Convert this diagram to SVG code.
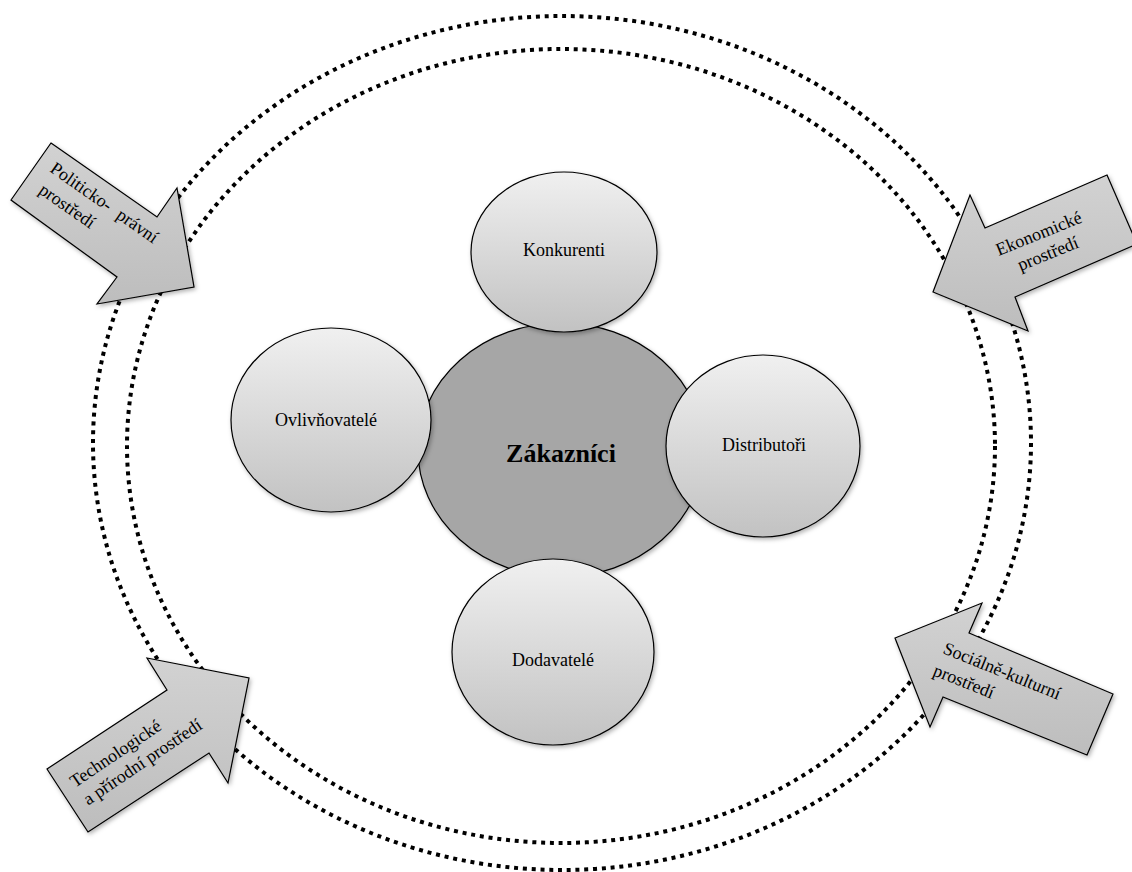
<svg xmlns="http://www.w3.org/2000/svg" width="1132" height="872" viewBox="0 0 1132 872">
<style>
.ring{fill:none;stroke:#000;stroke-width:4;stroke-dasharray:4 4.8}
.arrow{fill:url(#ag);stroke:#000;stroke-width:1.2;stroke-linejoin:miter;filter:url(#sh)}
.sat{fill:url(#cg);stroke:#000;stroke-width:1.2;filter:url(#sh)}
.core{fill:#a6a6a6;stroke:#000;stroke-width:1.2;filter:url(#sh)}
.t{font-family:"Liberation Serif","Times New Roman",serif;font-size:18px;fill:#000}
.c{text-anchor:middle}
.b{font-size:26px;font-weight:bold}
</style>
<defs>
<linearGradient id="cg" x1="0" y1="0" x2="0" y2="1">
<stop offset="0" stop-color="#f0f0f0"/>
<stop offset="1" stop-color="#c2c2c2"/>
</linearGradient>
<linearGradient id="ag" x1="0" y1="0" x2="0" y2="1">
<stop offset="0" stop-color="#d2d2d2"/>
<stop offset="1" stop-color="#bdbdbd"/>
</linearGradient>
<filter id="sh" x="-20%" y="-20%" width="140%" height="140%">
<feDropShadow dx="1.5" dy="2" stdDeviation="2" flood-color="#000" flood-opacity="0.3"/>
</filter>
</defs>
<g id="connectors">
<ellipse class="ring" cx="562" cy="443" rx="469" ry="427"/>
<ellipse class="ring" cx="561" cy="446" rx="434" ry="397"/>
</g>
<g id="zakaznici">
<ellipse class="core" cx="561" cy="450" rx="143" ry="127"/>
<text class="t c b" x="561" y="462">Zákazníci</text>
</g>
<g id="konkurenti">
<ellipse class="sat" cx="564" cy="252" rx="93" ry="80"/>
<text class="t c" x="564" y="256">Konkurenti</text>
</g>
<g id="ovlivnovatele">
<ellipse class="sat" cx="331" cy="420" rx="100" ry="92"/>
<text class="t c" x="326" y="426">Ovlivňovatelé</text>
</g>
<g id="distributori">
<ellipse class="sat" cx="763" cy="446" rx="97" ry="91"/>
<text class="t c" x="764" y="451">Distributoři</text>
</g>
<g id="dodavatele">
<ellipse class="sat" cx="553" cy="652" rx="101" ry="93"/>
<text class="t c" x="553" y="666">Dodavatelé</text>
</g>
<g id="arrow-politicko">
<polygon class="arrow" points="51,143 157,217 177,188 194,287 97,304 117,277 11,200"/>
<text class="t" transform="translate(49,171) rotate(35)"><tspan x="0" y="0">Politicko-</tspan><tspan x="81" y="0">právní</tspan><tspan x="3" y="24">prostředí</tspan></text>
</g>
<g id="arrow-ekonomicke">
<polygon class="arrow" points="1107,175 1137,244 1015,297 1028,331 933,292 970,195 985,228"/>
<text class="t c" transform="translate(1041,239) rotate(-22)"><tspan x="0" y="0">Ekonomické</tspan><tspan x="1" y="22">prostředí</tspan></text>
</g>
<g id="arrow-technologicke">
<polygon class="arrow" points="47,769 167,690 147,658 249,678 228,783 209,753 88,832"/>
<text class="t" transform="translate(75,788) rotate(-34)"><tspan x="0" y="0">Technologické</tspan><tspan x="1" y="22">a přírodní prostředí</tspan></text>
</g>
<g id="arrow-socialne">
<polygon class="arrow" points="1113,694 1087,755 943,697 930,727 895,638 982,603 969,633"/>
<text class="t" transform="translate(942,653) rotate(22)"><tspan x="0" y="0">Sociálně-kulturní</tspan><tspan x="-1" y="24">prostředí</tspan></text>
</g>
</svg>
